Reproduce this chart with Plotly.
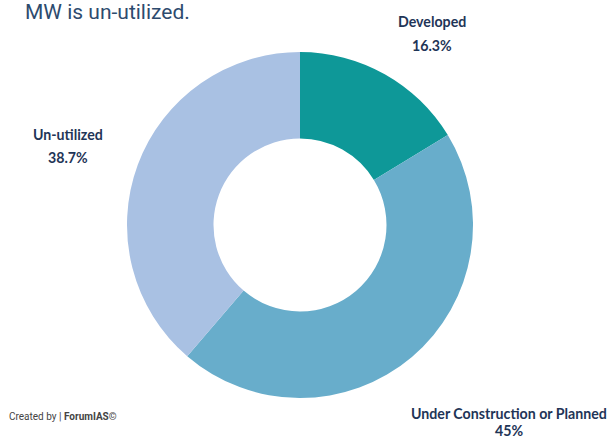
import plotly.graph_objects as go

# Share of capacity by status
categories = ["Developed", "Under Construction or Planned", "Un-utilized"]
shares = [16.3, 45, 38.7]
slice_colors = ["#0E9898", "#68ADCB", "#A9C1E3"]

W, H = 608, 440
cx, cy, r = 300, 225, 173

fig = go.Figure(
    go.Pie(
        labels=categories,
        values=shares,
        hole=0.5,
        sort=False,
        direction="clockwise",
        rotation=0,
        textinfo="none",
        hoverinfo="label+percent",
        marker=dict(colors=slice_colors, line=dict(width=0)),
        domain=dict(
            x=[(cx - r) / W, (cx + r) / W],
            y=[(H - cy - r) / H, (H - cy + r) / H],
        ),
        showlegend=False,
    )
)


def fmt(v):
    return f"{v:g}%"


# (x centre, name line y, value line y) in pixels from the top-left
label_pos = {
    "Developed": (432, 21, 46),
    "Under Construction or Planned": (509, 413, 430),
    "Un-utilized": (68, 134, 157),
}

label_font = dict(family="Lato", size=14.2, color="#1F3557")

annotations = []
for name, val in zip(categories, shares):
    px, py1, py2 = label_pos[name]
    for txt, py in ((name, py1), (fmt(val), py2)):
        annotations.append(
            dict(
                x=px / W, y=1 - py / H, xref="paper", yref="paper",
                text=f"<b>{txt}</b>",
                showarrow=False, xanchor="center", yanchor="middle",
                font=label_font,
            )
        )

annotations.append(
    dict(
        x=23 / W, y=1 - 12 / H, xref="paper", yref="paper",
        text="MW is un-utilized.", showarrow=False,
        xanchor="left", yanchor="middle",
        font=dict(family="Roboto", size=21, color="#2D4B6E"),
    )
)
annotations.append(
    dict(
        x=7 / W, y=1 - 416 / H, xref="paper", yref="paper",
        text="Created by | <b>ForumIAS©</b>", showarrow=False,
        xanchor="left", yanchor="middle",
        font=dict(family="Roboto", size=10, color="#444444"),
    )
)

fig.update_layout(
    width=W, height=H,
    margin=dict(l=0, r=0, t=0, b=0),
    paper_bgcolor="white", plot_bgcolor="white",
    annotations=annotations,
)

fig.write_html("out.html")
